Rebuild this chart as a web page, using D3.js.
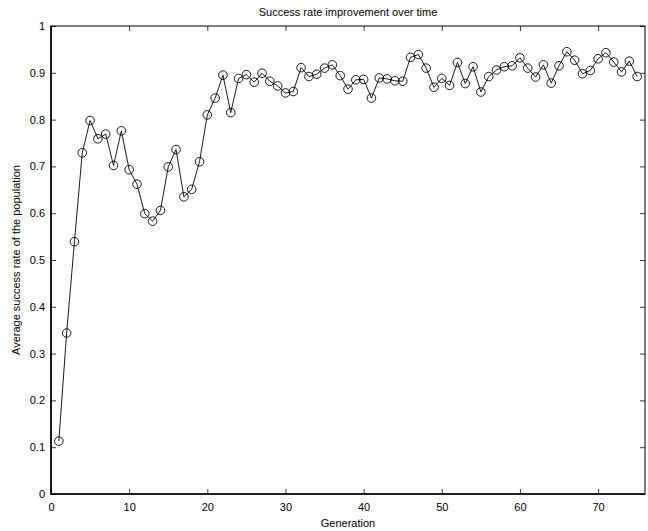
<!DOCTYPE html>
<html>
<head>
<meta charset="utf-8">
<script src="https://cdn.jsdelivr.net/npm/d3@7"></script>
<style>
  body { margin: 0; background: #fff; }
  text { font-family: "Liberation Sans", Arial, sans-serif; fill: #000; }
</style>
</head>
<body>
<div id="chart"></div>
<script>
const generations = d3.range(1, 76);
const successRate = [
  0.113, 0.344, 0.539, 0.729, 0.798, 0.759, 0.769, 0.702, 0.776, 0.693,
  0.662, 0.599, 0.583, 0.606, 0.699, 0.736, 0.635, 0.651, 0.710, 0.810,
  0.846, 0.895, 0.815, 0.888, 0.896, 0.880, 0.899, 0.882, 0.872, 0.857,
  0.860, 0.911, 0.892, 0.897, 0.910, 0.917, 0.894, 0.865, 0.885, 0.886,
  0.846, 0.889, 0.887, 0.883, 0.882, 0.933, 0.939, 0.910, 0.869, 0.888,
  0.873, 0.922, 0.877, 0.913, 0.859, 0.892, 0.906, 0.913, 0.915, 0.932,
  0.910, 0.891, 0.917, 0.878, 0.915, 0.945, 0.927, 0.898, 0.905, 0.930,
  0.943, 0.923, 0.902, 0.925, 0.892
];
const xTicks = [0, 10, 20, 30, 40, 50, 60, 70];
const yTicks = [0, 0.1, 0.2, 0.3, 0.4, 0.5, 0.6, 0.7, 0.8, 0.9, 1];

const data = generations.map((g, i) => ({ g, v: successRate[i] }));

const width = 648, height = 531;
const margin = { top: 26, right: 3, bottom: 37, left: 51 };
const chartWidth = width - margin.left - margin.right;
const chartHeight = height - margin.top - margin.bottom;

const svg = d3.select("#chart").append("svg")
  .attr("width", width).attr("height", height);

const x = d3.scaleLinear().domain([0, 76]).range([0, chartWidth]);
const y = d3.scaleLinear().domain([0, 1]).range([chartHeight, 0]);

const g = svg.append("g").attr("transform", `translate(${margin.left},${margin.top})`);

// matlab style: ticks pointing inward on all four sides
const tickLen = 5;
const fmtY = (d) => d === 0 || d === 1 ? String(d) : d3.format(".1f")(d);

g.append("g").attr("transform", `translate(0,${chartHeight})`)
  .call(d3.axisBottom(x).tickValues(xTicks).tickSize(-tickLen).tickPadding(9))
  .call(ax => ax.select(".domain").remove());
g.append("g")
  .call(d3.axisTop(x).tickValues(xTicks).tickSize(-tickLen).tickFormat(""))
  .call(ax => ax.select(".domain").remove());
g.append("g")
  .call(d3.axisLeft(y).tickValues(yTicks).tickSize(-tickLen).tickPadding(6).tickFormat(fmtY))
  .call(ax => ax.select(".domain").remove());
g.append("g").attr("transform", `translate(${chartWidth},0)`)
  .call(d3.axisRight(y).tickValues(yTicks).tickSize(-tickLen).tickFormat(""))
  .call(ax => ax.select(".domain").remove());

g.selectAll(".tick text").style("font-size", "11px").style("font-family", "Liberation Sans, Arial, sans-serif");
g.selectAll(".tick line").attr("stroke", "#000").attr("stroke-width", 0.8);

// box: bottom/left a bit heavier like the original export
g.append("rect")
  .attr("width", chartWidth).attr("height", chartHeight)
  .attr("fill", "none").attr("stroke", "#000").attr("stroke-width", 1);
g.append("path")
  .attr("d", `M0,0V${chartHeight}H${chartWidth}`)
  .attr("fill", "none").attr("stroke", "#000").attr("stroke-width", 1.6);

const line = d3.line().x(d => x(d.g)).y(d => y(d.v));
g.append("path").datum(data)
  .attr("d", line)
  .attr("fill", "none").attr("stroke", "#000").attr("stroke-width", 0.9);

g.selectAll("circle").data(data).enter().append("circle")
  .attr("cx", d => x(d.g)).attr("cy", d => y(d.v)).attr("r", 4.3)
  .attr("fill", "none").attr("stroke", "#000").attr("stroke-width", 0.9);

svg.append("text")
  .attr("x", margin.left + chartWidth / 2).attr("y", 16)
  .attr("text-anchor", "middle").style("font-size", "11px")
  .text("Success rate improvement over time");

svg.append("text")
  .attr("x", margin.left + chartWidth / 2).attr("y", 527)
  .attr("text-anchor", "middle").style("font-size", "11px")
  .text("Generation");

svg.append("text")
  .attr("transform", `translate(20,${margin.top + chartHeight / 2}) rotate(-90)`)
  .attr("text-anchor", "middle").style("font-size", "11px")
  .text("Average success rate of the population");
</script>
</body>
</html>
